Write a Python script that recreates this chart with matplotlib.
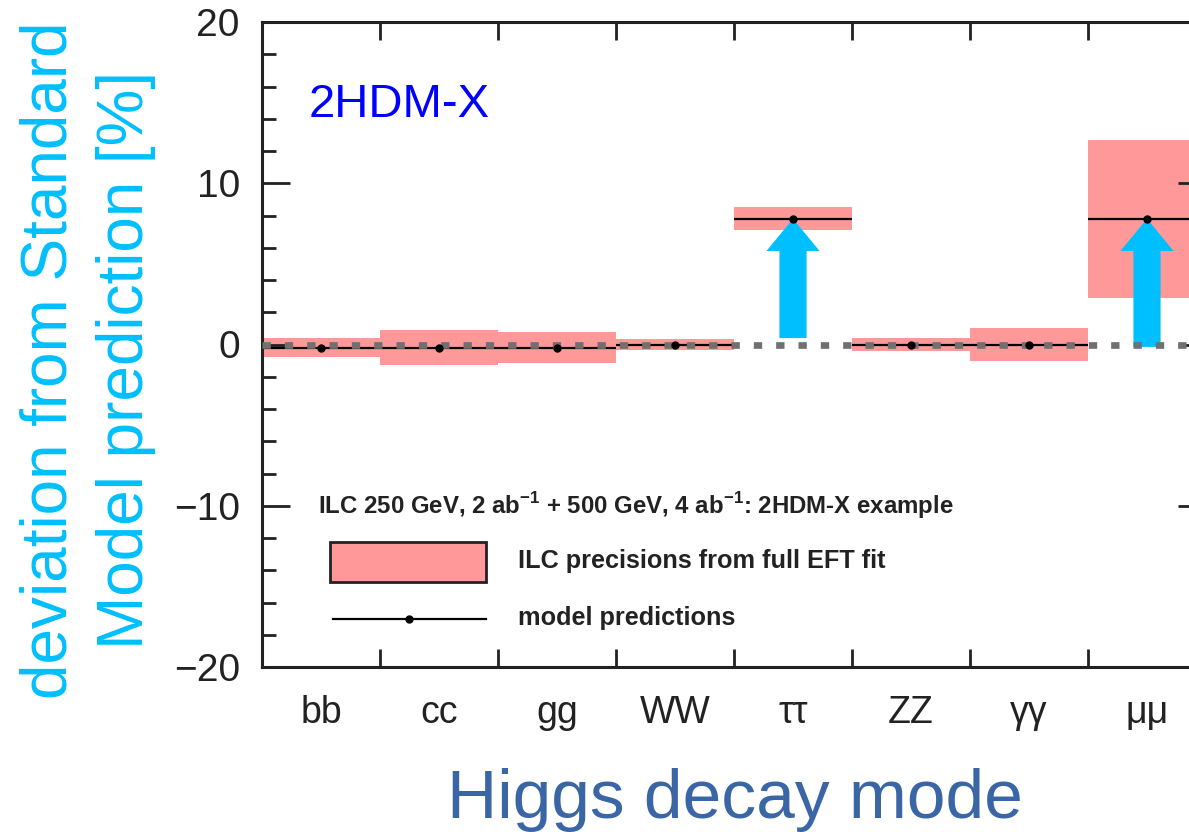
import matplotlib
matplotlib.use('Agg')
import matplotlib.pyplot as plt
import matplotlib.ticker as ticker
from matplotlib.patches import Rectangle, FancyArrow
from matplotlib.lines import Line2D

# Higgs couplings: 2HDM-X predictions vs ILC precision (deviation from SM, %)
categories = ['bb', 'cc', 'gg', 'WW', 'ττ', 'ZZ', 'γγ', 'μμ']
predictions = [-0.2, -0.2, -0.2, 0.0, 7.8, 0.0, 0.0, 7.8]
precisions = [0.6, 1.1, 0.95, 0.35, 0.72, 0.42, 1.05, 4.9]
arrow_modes = ['ττ', 'μμ']
arrow_base = [0.4, -0.15]

pink = '#ff9999'
cyan = '#00bfff'
dark = '#222222'

plt.rcParams['font.family'] = ['Liberation Sans', 'DejaVu Sans']
plt.rcParams['mathtext.fontset'] = 'custom'
plt.rcParams['mathtext.rm'] = 'Liberation Sans:bold'
plt.rcParams['mathtext.bf'] = 'Liberation Sans:bold'

fig = plt.figure(figsize=(11.89, 8.32), dpi=100)
# frame runs past the right edge (the reference is a crop)
ax = fig.add_axes([262/1189, 1 - 667/832, 944/1189, 645/832])

n = len(categories)
centers = [i + 0.5 for i in range(n)]
lows = [p - e for p, e in zip(predictions, precisions)]
ax.bar(centers, [2*e for e in precisions], bottom=lows, width=1.0, color=pink, zorder=1)
ax.hlines(predictions, [c - 0.5 for c in centers], [c + 0.5 for c in centers],
          color='black', lw=1.6, zorder=2)

for mode, base in zip(arrow_modes, arrow_base):
    i = categories.index(mode)
    ax.add_patch(FancyArrow(centers[i], base, 0, predictions[i] - base, width=0.23,
                            head_width=0.45, head_length=2.0, length_includes_head=True,
                            color=cyan, lw=0, zorder=3))

ax.axhline(0, color='#707070', lw=4.8, dashes=(1.25, 2.1), dash_capstyle='butt', zorder=4)
ax.plot(centers, predictions, 'o', color='black', ms=5, zorder=5)

ax.set_xlim(0, n)
ax.set_ylim(-20, 20)

for s in ax.spines.values():
    s.set_linewidth(2.2)
    s.set_color(dark)

ax.yaxis.set_major_locator(ticker.MultipleLocator(10))
ax.yaxis.set_minor_locator(ticker.MultipleLocator(2))
ax.tick_params(axis='y', which='major', direction='in', length=20, width=2, color=dark,
               left=True, right=True, labelsize=28, pad=16, labelcolor=dark)
ax.tick_params(axis='y', which='minor', direction='in', length=10, width=2, color=dark,
               left=True, right=True)
ax.set_xticks(range(1, n))
ax.set_xticklabels([])
ax.set_xticks(centers, minor=True)
ax.set_xticklabels(categories, minor=True)
ax.tick_params(axis='x', which='major', direction='in', length=13, width=2, color=dark,
               top=True, bottom=True)
ax.tick_params(axis='x', which='minor', length=0, labelsize=27, pad=20, labelcolor=dark)

ax.text(0.049, 0.853, '2HDM-X', transform=ax.transAxes, color='#0000ff', fontsize=34,
        va='baseline')

# legend drawn by hand, like the ROOT original
ax.text(0.0593, 0.251, r'ILC 250 GeV, 2 ab$^{-1}$ + 500 GeV, 4 ab$^{-1}$: 2HDM-X example',
        transform=ax.transAxes, fontsize=17.3, fontweight='bold', va='center', color=dark)
ax.add_patch(Rectangle((0.072, 0.132), 0.165, 0.062, transform=ax.transAxes,
                       facecolor=pink, edgecolor=dark, lw=2, zorder=6))
ax.text(0.271, 0.164, 'ILC precisions from full EFT fit', transform=ax.transAxes,
        fontsize=18.2, fontweight='bold', va='center', color=dark)
ax.add_line(Line2D([0.0752, 0.237], [0.0744, 0.0744], transform=ax.transAxes,
                   color='black', lw=1.6, zorder=6))
ax.add_line(Line2D([0.156], [0.0744], transform=ax.transAxes, marker='o', ms=5,
                   color='black', zorder=6))
ax.text(0.271, 0.076, 'model predictions', transform=ax.transAxes,
        fontsize=18.2, fontweight='bold', va='center', color=dark)

fig.text(0.0736, 0.567, 'deviation from Standard\nModel prediction [%]', rotation=90,
         ha='center', va='center', multialignment='center', fontsize=46,
         linespacing=1.35, color=cyan)
fig.text(0.618, 1 - 818/832, 'Higgs decay mode', ha='center', va='baseline',
         fontsize=50, color='#3a66a6')

plt.savefig('out.png', dpi=100)
